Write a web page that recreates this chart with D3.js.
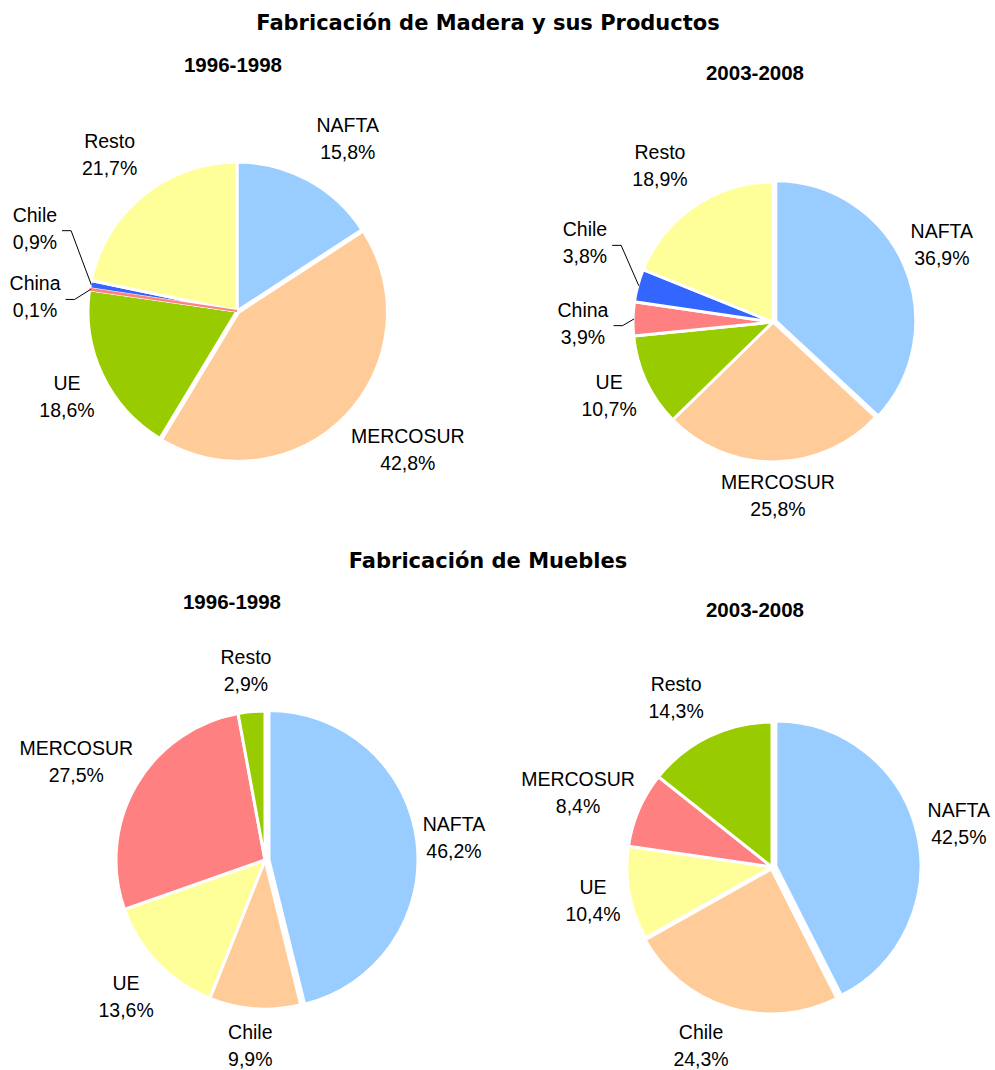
<!DOCTYPE html>
<html>
<head>
<meta charset="utf-8">
<script src="https://cdn.jsdelivr.net/npm/d3@7"></script>
<style>
  body { margin: 0; background: #fff; }
</style>
</head>
<body>
<svg></svg>
<script>
// data
const sectionTitles = ['Fabricación de Madera y sus Productos', 'Fabricación de Muebles'];
const periods = ['1996-1998', '2003-2008'];

const maderaRegions9698 = ['NAFTA', 'MERCOSUR', 'UE', 'China', 'Chile', 'Resto'];
const maderaValues9698 = [15.8, 42.8, 18.6, 0.1, 0.9, 21.7];

const maderaRegions0308 = ['NAFTA', 'MERCOSUR', 'UE', 'China', 'Chile', 'Resto'];
const maderaValues0308 = [36.9, 25.8, 10.7, 3.9, 3.8, 18.9];

const mueblesRegions9698 = ['NAFTA', 'Chile', 'UE', 'MERCOSUR', 'Resto'];
const mueblesValues9698 = [46.2, 9.9, 13.6, 27.5, 2.9];

const mueblesRegions0308 = ['NAFTA', 'Chile', 'UE', 'MERCOSUR', 'Resto'];
const mueblesValues0308 = [42.5, 24.3, 10.4, 8.4, 14.3];

const W = 995, H = 1070;
const svg = d3.select('svg').attr('width', W).attr('height', H);

const blue = '#99CCFF', orange = '#FFCC99', green = '#99CC00',
      pink = '#FF8080', royal = '#3366FF', yellow = '#FFFF99';

// layout for each pie; labelAdj = [angle nudge in degrees, distance / radius]
const charts = [
  { regions: maderaRegions9698, values: maderaValues9698, period: periods[0],
    colors: [blue, orange, green, pink, royal, yellow],
    cx: 237, cy: 311, r: 148, explode: [0, 2, 0, 0, 0, 0],
    labelAdj: [[4.3, 1.383], [-5, 1.486], [-1.5, 1.287], [-4.4, 1.368], [12.1, 1.476], [0, 1.365]],
    leaders: ['China', 'Chile'], tx: 233, ty: 72 },
  { regions: maderaRegions0308, values: maderaValues0308, period: periods[1],
    colors: [blue, orange, green, pink, royal, yellow],
    cx: 773, cy: 322, r: 139, explode: [3, 0, 0, 0, 0, 0],
    labelAdj: [[-1.2, 1.338], [-0.9, 1.252], [1, 1.291], [-1.6, 1.367], [7.7, 1.468], [-1.9, 1.386]],
    leaders: ['China', 'Chile'], tx: 755, ty: 80 },
  { regions: mueblesRegions9698, values: mueblesValues9698, period: periods[0],
    colors: [blue, orange, yellow, pink, green],
    cx: 265, cy: 860, r: 148, explode: [4, 0, 0, 0, 0],
    labelAdj: [[0, 1.286], [0.6, 1.254], [-0.8, 1.318], [-2.5, 1.439], [-0.5, 1.29]],
    leaders: [], tx: 232, ty: 609 },
  { regions: mueblesRegions0308, values: mueblesValues0308, period: periods[1],
    colors: [blue, orange, yellow, pink, green],
    cx: 772, cy: 867, r: 144, explode: [4, 2, 0, 0, 0],
    labelAdj: [[0.2, 1.333], [4.8, 1.331], [0, 1.264], [-2.2, 1.444], [-3.7, 1.354]],
    leaders: [], tx: 755, ty: 617 }
];

const fmt = v => d3.format('.1f')(v).replace('.', ',') + '%';
const rad = deg => deg * Math.PI / 180;

// section titles
svg.selectAll('text.section').data(sectionTitles)
  .enter().append('text')
  .attr('class', 'section')
  .attr('x', 488)
  .attr('y', (d, i) => i === 0 ? 30 : 568)
  .attr('text-anchor', 'middle')
  .attr('font-family', 'DejaVu Sans, Verdana, sans-serif')
  .attr('font-weight', 'bold')
  .attr('font-size', '21px')
  .attr('fill', '#000')
  .text(d => d);

charts.forEach(c => {
  const data = c.regions.map((name, i) => ({ name, value: c.values[i], i }));
  const color = d3.scaleOrdinal().domain(c.regions).range(c.colors);
  const pie = d3.pie().sort(null).value(d => d.value);
  const arc = d3.arc().innerRadius(0).outerRadius(c.r + 1);
  const arcs = pie(data);
  const g = svg.append('g').attr('transform', `translate(${c.cx},${c.cy})`);

  const shift = d => {
    const m = (d.startAngle + d.endAngle) / 2;
    const e = c.explode[d.data.i];
    return `translate(${e * Math.sin(m)},${-e * Math.cos(m)})`;
  };

  g.selectAll('path.slice').data(arcs)
    .enter().append('path')
    .attr('class', 'slice')
    .attr('d', arc)
    .attr('transform', shift)
    .attr('fill', d => color(d.data.name))
    .attr('stroke', '#fff')
    .attr('stroke-width', 3)
    .attr('stroke-linejoin', 'round');

  // very thin slices would vanish under the white borders: draw them again on top
  g.selectAll('path.thin').data(arcs.filter(d => d.endAngle - d.startAngle < rad(1)))
    .enter().append('path')
    .attr('class', 'thin')
    .attr('d', d3.arc().innerRadius(0).outerRadius(c.r))
    .attr('transform', shift)
    .attr('fill', d => color(d.data.name))
    .attr('stroke', d => color(d.data.name))
    .attr('stroke-width', 2);

  const labels = g.selectAll('text.lbl').data(arcs)
    .enter().append('text')
    .attr('class', 'lbl')
    .attr('text-anchor', 'middle')
    .attr('font-family', 'Liberation Sans, Arial, sans-serif')
    .attr('font-size', '19.5px')
    .attr('fill', '#000')
    .each(function (d) {
      const adj = c.labelAdj[d.data.i];
      const a = (d.startAngle + d.endAngle) / 2 + rad(adj[0]);
      const dist = c.r * adj[1];
      d.lx = dist * Math.sin(a);
      d.ly = -dist * Math.cos(a);
      const t = d3.select(this);
      t.append('tspan').attr('x', d.lx).attr('y', d.ly - 6.5).text(d.data.name);
      t.append('tspan').attr('x', d.lx).attr('y', d.ly + 20.5).text(fmt(d.data.value));
    });

  // leader lines for the thin slices
  labels.filter(d => c.leaders.includes(d.data.name)).each(function (d) {
    const bb = this.getBBox();
    const m = (d.startAngle + d.endAngle) / 2;
    const x0 = bb.x + bb.width + 5, y0 = d.ly + 2.5;
    g.append('polyline')
      .attr('points', [[x0, y0], [x0 + 9, y0], [c.r * Math.sin(m), -c.r * Math.cos(m)]].join(' '))
      .attr('fill', 'none')
      .attr('stroke', '#000')
      .attr('stroke-width', 1);
  });

  svg.append('text')
    .attr('x', c.tx)
    .attr('y', c.ty)
    .attr('text-anchor', 'middle')
    .attr('font-family', 'Liberation Sans, Arial, sans-serif')
    .attr('font-weight', 'bold')
    .attr('font-size', '20.5px')
    .attr('fill', '#000')
    .text(c.period);
});
</script>
</body>
</html>
